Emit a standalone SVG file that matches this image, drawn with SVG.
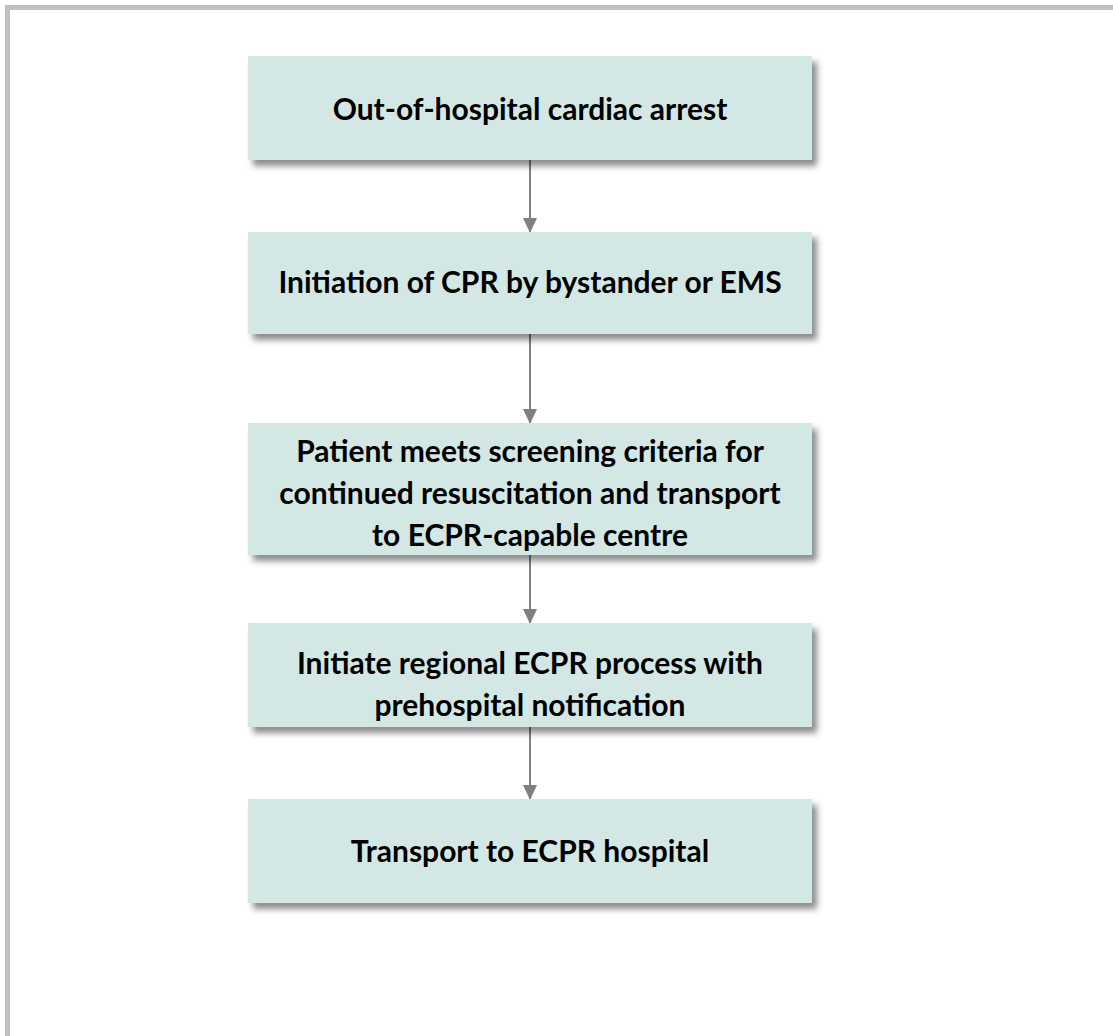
<svg xmlns="http://www.w3.org/2000/svg" width="1113" height="1036" viewBox="0 0 1113 1036">
  <style>
    .box { fill: #d3e8e5; filter: url(#shadow); }
    .label { font-family: Lato, "Liberation Sans", sans-serif; font-weight: bold; font-size: 30px; fill: #000; text-anchor: middle; }
    .conn { stroke: #808080; stroke-width: 2; fill: none; marker-end: url(#arrow); }
  </style>
  <defs>
    <filter id="shadow" x="-10%" y="-20%" width="130%" height="150%">
      <feDropShadow dx="5" dy="6" stdDeviation="3" flood-color="#000" flood-opacity="0.45"/>
    </filter>
    <marker id="arrow" markerWidth="15" markerHeight="16" refX="15" refY="7.5" orient="auto" markerUnits="userSpaceOnUse" viewBox="0 0 16 15">
      <path d="M0,0 L16,7.5 L0,15 Z" fill="#808080"/>
    </marker>
  </defs>
  <rect x="0" y="0" width="1113" height="1036" fill="#fff"/>
  <rect x="7.5" y="7.5" width="1120" height="1040" fill="none" stroke="#c0c0c0" stroke-width="5"/>

  <g id="connectors">
    <line class="conn" x1="530" y1="160" x2="530" y2="232"/>
    <line class="conn" x1="530" y1="334" x2="530" y2="423"/>
    <line class="conn" x1="530" y1="555" x2="530" y2="623"/>
    <line class="conn" x1="530" y1="727" x2="530" y2="799"/>
  </g>

  <g id="node1">
    <rect class="box" x="248" y="56" width="564" height="104"/>
    <text class="label" x="530" y="120">Out-of-hospital cardiac arrest</text>
  </g>
  <g id="node2">
    <rect class="box" x="248" y="232" width="564" height="102"/>
    <text class="label" x="530" y="293">Initiation of CPR by bystander or EMS</text>
  </g>
  <g id="node3">
    <rect class="box" x="248" y="423" width="564" height="132"/>
    <text class="label" x="530" y="462">Patient meets screening criteria for</text>
    <text class="label" x="530" y="504">continued resuscitation and transport</text>
    <text class="label" x="530" y="546">to ECPR-capable centre</text>
  </g>
  <g id="node4">
    <rect class="box" x="248" y="623" width="564" height="104"/>
    <text class="label" x="530" y="674">Initiate regional ECPR process with</text>
    <text class="label" x="530" y="716">prehospital notification</text>
  </g>
  <g id="node5">
    <rect class="box" x="248" y="799" width="564" height="104"/>
    <text class="label" x="530" y="862">Transport to ECPR hospital</text>
  </g>
</svg>
